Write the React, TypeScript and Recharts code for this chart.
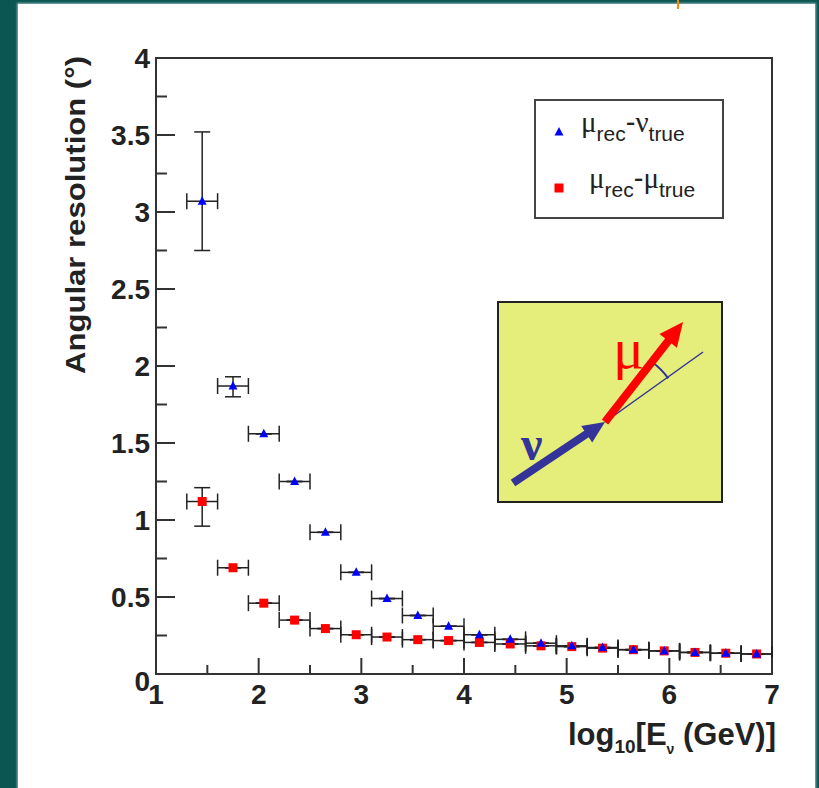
import React from 'react';
import { ScatterChart, Scatter, XAxis, YAxis, ErrorBar, ReferenceArea } from 'recharts';

// bin centres in log10(E/GeV)
const xBins = [1.45, 1.75, 2.05, 2.35, 2.65, 2.95, 3.25, 3.55, 3.85, 4.15, 4.45, 4.75, 5.05, 5.35, 5.65, 5.95, 6.25, 6.55, 6.85];
const binHalfWidth = 0.15;

// mu_rec - nu_true
const nuRes = [3.07, 1.87, 1.56, 1.25, 0.92, 0.66, 0.49, 0.38, 0.31, 0.255, 0.225, 0.2, 0.183, 0.172, 0.158, 0.15, 0.14, 0.135, 0.13];
const nuErrLow = [0.32, 0.07, 0, 0, 0, 0, 0, 0, 0, 0, 0, 0, 0, 0, 0, 0, 0, 0, 0];
const nuErrHigh = [0.45, 0.06, 0, 0, 0, 0, 0, 0, 0, 0, 0, 0, 0, 0, 0, 0, 0, 0, 0];

// mu_rec - mu_true
const muRes = [1.12, 0.69, 0.46, 0.35, 0.295, 0.255, 0.24, 0.223, 0.217, 0.205, 0.195, 0.183, 0.178, 0.168, 0.158, 0.15, 0.14, 0.135, 0.13];
const muErrLow = [0.16, 0, 0, 0, 0, 0, 0, 0, 0, 0, 0, 0, 0, 0, 0, 0, 0, 0, 0];
const muErrHigh = [0.09, 0, 0, 0, 0, 0, 0, 0, 0, 0, 0, 0, 0, 0, 0, 0, 0, 0, 0];

const xTicks = [1, 1.5, 2, 2.5, 3, 3.5, 4, 4.5, 5, 5.5, 6, 6.5, 7];
const yTicks = [0, 0.25, 0.5, 0.75, 1, 1.25, 1.5, 1.75, 2, 2.25, 2.5, 2.75, 3, 3.25, 3.5, 3.75, 4];

const FONT = '"Liberation Sans", Arial, sans-serif';
const SERIF = '"Liberation Serif", "DejaVu Serif", serif';
const AXIS = '#333';

const nuData = xBins.map((x, i) => ({ x, y: nuRes[i], ex: binHalfWidth, ey: [nuErrLow[i], nuErrHigh[i]] }));
const muData = xBins.map((x, i) => ({ x, y: muRes[i], ex: binHalfWidth, ey: [muErrLow[i], muErrHigh[i]] }));

const isMajor = (v: number) => Math.abs(v * 2 - Math.round(v * 2)) < 1e-6;
const isInt = (v: number) => Math.abs(v - Math.round(v)) < 1e-6;

function LeftTick(props: any) {
  const { x, y, payload } = props;
  const v = payload.value;
  const axisX = x + 6;
  const major = isMajor(v);
  return (
    <g>
      <line x1={axisX} y1={y} x2={axisX + (major ? 19 : 11)} y2={y} stroke={AXIS} strokeWidth={2} />
      {major && (
        <text x={x} y={y + 10 + (v === 0 ? 7 : 0)} textAnchor="end" fontSize={28} fontWeight="bold" fontFamily={FONT} fill="#222">
          {v}
        </text>
      )}
    </g>
  );
}

function RightTick(props: any) {
  const { x, y, payload } = props;
  const major = isMajor(payload.value);
  return <line x1={x} y1={y} x2={x - (major ? 18 : 14)} y2={y} stroke={AXIS} strokeWidth={2} />;
}

function BottomTick(props: any) {
  const { x, y, payload } = props;
  const v = payload.value;
  const axisY = y - 8;
  const major = isInt(v);
  return (
    <g>
      <line x1={x} y1={axisY} x2={x} y2={axisY - (major ? 16 : 9)} stroke={AXIS} strokeWidth={2} />
      {major && (
        <text x={x} y={axisY + 30} textAnchor="middle" fontSize={28} fontWeight="bold" fontFamily={FONT} fill="#222">
          {v}
        </text>
      )}
    </g>
  );
}

function Square(props: any) {
  const { cx, cy } = props;
  return <rect x={cx - 4.5} y={cy - 4.5} width={9} height={9} fill="#ff0000" />;
}

function Triangle(props: any) {
  const { cx, cy } = props;
  return <polygon points={`${cx},${cy - 5} ${cx - 4.5},${cy + 3.5} ${cx + 4.5},${cy + 3.5}`} fill="#0000ff" />;
}

function Overlay() {
  return (
    <svg width={819} height={788} style={{ position: 'absolute', left: 0, top: 0, pointerEvents: 'none' }}>
      {/* axis titles */}
      <text
        transform="translate(85,215) rotate(-90)"
        textAnchor="middle"
        fontSize={28}
        fontWeight="bold"
        fontFamily={FONT}
        fill="#222"
        textLength={318}
        lengthAdjust="spacingAndGlyphs"
      >
        Angular resolution (°)
      </text>
      <text x={776} y={745} textAnchor="end" fontSize={31} fontWeight="bold" fontFamily={FONT} fill="#222" style={{ whiteSpace: 'pre' }}>
        log<tspan fontSize={19} dy={8}>10</tspan>
        <tspan dy={-8}>[E</tspan>
        <tspan fontSize={14} dy={9}>ν</tspan>
        <tspan dy={-9}> (GeV)]</tspan>
      </text>

      {/* legend */}
      <rect x={535} y={100} width={188} height={118} fill="#fff" stroke="#444" strokeWidth={2} />
      <polygon points="559,127 554.5,135.5 563.5,135.5" fill="#0000ff" />
      <text x={581} y={132} fontSize={29} fontFamily={FONT} fill="#222" style={{ whiteSpace: 'pre' }}>
        <tspan fontFamily={SERIF}>μ</tspan>
        <tspan fontSize={21} dy={9}>rec</tspan>
        <tspan dy={-9}>-</tspan>
        <tspan fontFamily={SERIF}>ν</tspan>
        <tspan fontSize={21} dy={9}>true</tspan>
      </text>
      <rect x={554.5} y={183.5} width={9} height={9} fill="#ff0000" />
      <text x={589} y={188} fontSize={29} fontFamily={FONT} fill="#222" style={{ whiteSpace: 'pre' }}>
        <tspan fontFamily={SERIF}>μ</tspan>
        <tspan fontSize={21} dy={9}>rec</tspan>
        <tspan dy={-9}>-</tspan>
        <tspan fontFamily={SERIF}>μ</tspan>
        <tspan fontSize={21} dy={9}>true</tspan>
      </text>

      {/* sketch of the reconstruction angle */}
      <rect x={498} y={302} width={224} height={200} fill="#e5ee7a" stroke="#222" strokeWidth={2} />
      <line x1={605} y1={422} x2={703} y2={352} stroke="#333399" strokeWidth={1.5} />
      <path d="M 651.7 361.7 A 76 76 0 0 1 668.3 378.3" fill="none" stroke="#333399" strokeWidth={2} />
      <line x1={513} y1={483} x2={588} y2={433} stroke="#333399" strokeWidth={8} />
      <polygon points="605,422 592.2,442.5 581.2,425.9" fill="#333399" />
      <line x1={605} y1={422} x2={669} y2={340} stroke="#ff0000" strokeWidth={8} />
      <polygon points="683,322 676.9,347.7 659.5,334.1" fill="#ff0000" />
      <text x={613} y={368} fontSize={58} fontFamily={SERIF} fill="#ff0000">μ</text>
      <text x={521} y={460} fontSize={48} fontWeight="bold" fontFamily={SERIF} fill="#333399">ν</text>
    </svg>
  );
}

export default function App() {
  return (
    <div style={{ position: 'absolute', left: 0, top: 0, width: 819, height: 788, background: '#0b5553', overflow: 'hidden' }}>
      <div style={{ position: 'absolute', left: 18, top: 4, width: 797, height: 790, background: '#fff', boxShadow: '0 0 2px 1px #8fb8b6' }} />
      <div style={{ position: 'absolute', left: 677, top: 0, width: 2, height: 9, background: '#ff8a00' }} />
      <div style={{ position: 'absolute', left: 0, top: 0 }}>
        <ScatterChart width={819} height={788} margin={{ top: 58, right: 47, bottom: 64, left: 96 }}>
          <XAxis
            type="number"
            dataKey="x"
            domain={[1, 7]}
            ticks={xTicks}
            interval={0}
            height={50}
            axisLine={false}
            tickLine={false}
            tickSize={0}
            tickMargin={8}
            tick={<BottomTick />}
            allowDataOverflow
          />
          <YAxis
            type="number"
            dataKey="y"
            domain={[0, 4]}
            ticks={yTicks}
            interval={0}
            width={60}
            axisLine={false}
            tickLine={false}
            tickSize={0}
            tickMargin={6}
            tick={<LeftTick />}
            allowDataOverflow
          />
          <YAxis
            yAxisId="right"
            orientation="right"
            type="number"
            domain={[0, 4]}
            ticks={yTicks}
            interval={0}
            width={0}
            axisLine={false}
            tickLine={false}
            tickSize={0}
            tickMargin={0}
            tick={<RightTick />}
          />
          <ReferenceArea x1={1} x2={7} y1={0} y2={4} fill="none" stroke={AXIS} strokeWidth={2} ifOverflow="visible" />
          <Scatter data={muData} shape={<Square />} isAnimationActive={false}>
            <ErrorBar dataKey="ey" direction="y" width={8} stroke="#222" strokeWidth={1.5} />
            <ErrorBar dataKey="ex" direction="x" width={8} stroke="#222" strokeWidth={1.5} />
          </Scatter>
          <Scatter data={nuData} shape={<Triangle />} isAnimationActive={false}>
            <ErrorBar dataKey="ey" direction="y" width={8} stroke="#222" strokeWidth={1.5} />
            <ErrorBar dataKey="ex" direction="x" width={8} stroke="#222" strokeWidth={1.5} />
          </Scatter>
        </ScatterChart>
      </div>
      <Overlay />
    </div>
  );
}
